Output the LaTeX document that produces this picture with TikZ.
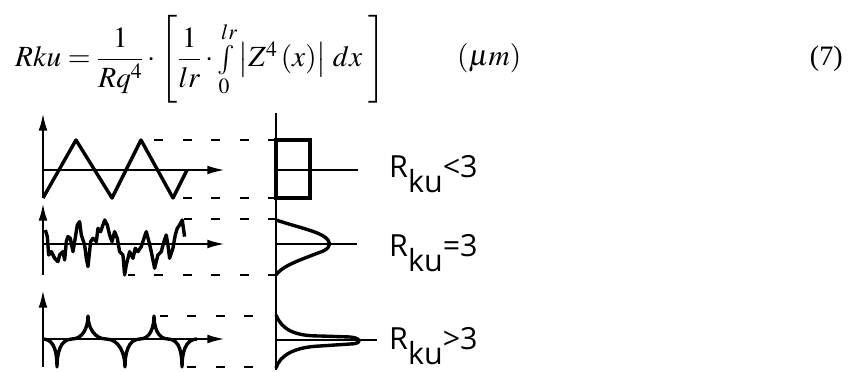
\documentclass[tikz,border=0pt]{standalone}
\usepackage{amsmath}
\usepackage{mathptmx}
\usepackage{fontspec}
\setmainfont{Liberation Serif}
\newfontfamily\labelfont{Open Sans}
\usetikzlibrary{arrows.meta}

\begin{document}
\begin{tikzpicture}[x=0.03cm, y=-0.03cm,
	axis/.style={line width=2pt, -{Latex[length=15pt, width=7.5pt]}},
	plain/.style={line width=2pt},
	profile/.style={line width=2.9pt, line join=round},
	guide/.style={line width=2pt, dash pattern=on 7.5pt off 16.8pt},
	kurt/.style={font=\labelfont\fontsize{26}{30}\selectfont, anchor=base west, inner sep=0pt},
	eq/.style={font=\fontsize{25}{30}\selectfont, inner sep=0pt}]
	\useasboundingbox (0, 0) rectangle (858, 372);
	% Formula:
	\node[eq, anchor=base west] (rku) at (15, 67) {$Rku=\dfrac{1}{Rq^{4}}\cdot\left[\rule[-30pt]{0pt}{72pt}\dfrac{1}{lr}\cdot\int\limits_{0}^{lr}\left|Z^{4}\left(x\right)\right|\,dx\;\right]$};
	\node[eq, anchor=base west] (unit) at (457, 66) {$(\mu m)$};
	\node[eq, font=\fontsize{24}{28}\selectfont, anchor=base east] (eqno) at (843, 66) {(7)};
	% Profiles and axes:
	\draw[axis] (43, 198) -- (43, 113);
	\draw[axis] (43, 170) -- (225, 170);
	\draw[profile] (43, 198) -- (76, 140) -- (112, 198) -- (141, 140) -- (173, 198) -- (187, 170);
	\draw[axis] (43, 275) -- (43, 203);
	\draw[axis] (43, 244) -- (225, 244);
	\begin{scope}[shift={(38, 205)}, x=0.01cm, y=-0.01cm]
		\draw[profile] (22, 75) -- (28, 95) -- (32, 150) -- (40, 140) -- (50, 160) -- (60, 170) -- (65, 150)
			-- (75, 140) -- (80, 165) -- (85, 110) -- (90, 95) -- (97, 100) -- (105, 140) -- (110, 110)
			-- (118, 60) -- (125, 50) -- (130, 90) -- (140, 120) -- (145, 160) -- (150, 185) -- (158, 110)
			-- (165, 100) -- (175, 110) -- (180, 70) -- (188, 80) -- (195, 60) -- (200, 45) -- (208, 60)
			-- (215, 90) -- (222, 110) -- (230, 80) -- (238, 100) -- (245, 140) -- (255, 150) -- (260, 210)
			-- (265, 180) -- (275, 140) -- (285, 160) -- (292, 130) -- (300, 140) -- (310, 125) -- (318, 100)
			-- (325, 80) -- (333, 110) -- (340, 140) -- (350, 190) -- (360, 150) -- (370, 140) -- (378, 110)
			-- (385, 90) -- (390, 120) -- (395, 160) -- (405, 130) -- (412, 90) -- (418, 70) -- (425, 60)
			-- (433, 45) -- (440, 95);
	\end{scope}
	\draw[axis] (43, 367) -- (43, 290);
	\draw[axis] (43, 339) -- (225, 339);
	\draw[profile] (43, 339) to[out=0, in=90] (57, 367) to[out=90, in=180] (72, 339) to[out=0, in=-90] (88, 316)
		to[out=-90, in=180] (106, 339) to[out=0, in=90] (125, 367) to[out=90, in=180] (140, 339)
		to[out=0, in=-90] (154, 316) to[out=-90, in=180] (168, 339) to[out=0, in=90] (182, 367)
		to[out=90, in=180] (197, 339);
	% Guide lines:
	\draw[guide] (277, 140) -- (153, 140);
	\draw[guide] (277, 198) -- (182, 198);
	\draw[guide] (277, 219) -- (184, 219);
	\draw[guide] (277, 275) -- (128, 275);
	\draw[guide] (253, 316) -- (160, 316);
	\draw[guide] (253, 367) -- (187, 367);
	% Distributions:
	\draw[plain] (276, 113) -- (276, 370);
	\draw[plain] (276, 170) -- (358, 170);
	\draw[line width=3.6pt] (276, 140) rectangle (310, 198);
	\draw[plain] (276, 244) -- (357, 244);
	\draw[profile] (276, 220) .. controls (300, 228) and (322, 232) .. (328, 240)
		.. controls (332, 245) and (328, 250) .. (318, 253)
		.. controls (300, 260) and (282, 266) .. (276, 275);
	\draw[plain] (276, 340) -- (377, 340);
	\draw[profile] (276, 315) .. controls (282, 330) and (295, 336) .. (320, 336)
		-- (350, 337) .. controls (362, 338) and (362, 344) .. (350, 344)
		-- (320, 346) .. controls (295, 347) and (280, 355) .. (276, 368);
	% Labels:
	\node[kurt] (ku1) at (389, 178) {R\raisebox{-12pt}{ku}<3};
	\node[kurt] (ku2) at (389, 257) {R\raisebox{-12pt}{ku}=3};
	\node[kurt] (ku3) at (389, 350) {R\raisebox{-12pt}{ku}>3};
\end{tikzpicture}
\end{document}
